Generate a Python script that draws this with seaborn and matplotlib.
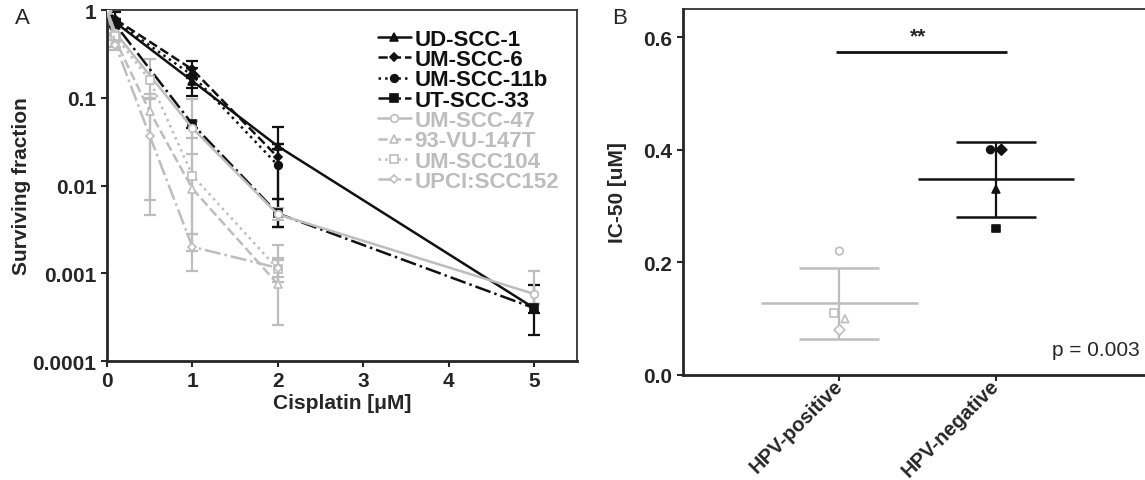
import matplotlib
matplotlib.use("Agg")
import matplotlib.pyplot as plt
import numpy as np
import pandas as pd
import seaborn as sns

BLACK = "#111111"
GRAY = "#bdbdbd"

# ---- panel A: clonogenic survival ----
line_names = [
    "UD-SCC-1", "UM-SCC-6", "UM-SCC-11b", "UT-SCC-33",
    "UM-SCC-47", "93-VU-147T", "UM-SCC104", "UPCI:SCC152",
]
hpv_positive = [False, False, False, False, True, True, True, True]

dose = {
    "UD-SCC-1": [0, 0.1, 1, 2, 5],
    "UM-SCC-6": [0, 0.1, 1, 2],
    "UM-SCC-11b": [0, 0.1, 1, 2],
    "UT-SCC-33": [0, 0.1, 1, 2, 5],
    "UM-SCC-47": [0, 0.1, 1, 2, 5],
    "93-VU-147T": [0, 0.1, 0.5, 1, 2],
    "UM-SCC104": [0, 0.1, 0.5, 1, 2],
    "UPCI:SCC152": [0, 0.1, 0.5, 1, 2],
}
surv = {
    "UD-SCC-1": [1.0, 0.72, 0.155, 0.028, 0.0004],
    "UM-SCC-6": [1.0, 0.78, 0.21, 0.021],
    "UM-SCC-11b": [1.0, 0.74, 0.18, 0.017],
    "UT-SCC-33": [1.0, 0.68, 0.05, 0.0048, 0.0004],
    "UM-SCC-47": [1.0, 0.55, 0.045, 0.0047, 0.00058],
    "93-VU-147T": [1.0, 0.45, 0.07, 0.0092, 0.00075],
    "UM-SCC104": [1.0, 0.5, 0.16, 0.013, 0.00112],
    "UPCI:SCC152": [1.0, 0.4, 0.037, 0.002, 0.00115],
}
surv_lo = {
    "UD-SCC-1": [1.0, 0.65, 0.13, 0.026, 0.00035],
    "UM-SCC-6": [1.0, 0.7, 0.17, 0.0034],
    "UM-SCC-11b": [1.0, 0.68, 0.105, 0.0071],
    "UT-SCC-33": [1.0, 0.62, 0.045, 0.0034, 0.0002],
    "UM-SCC-47": [1.0, 0.5, 0.035, 0.004, 0.00045],
    "93-VU-147T": [1.0, 0.38, 0.0068, 0.0018, 0.00026],
    "UM-SCC104": [1.0, 0.45, 0.1, 0.0028, 0.0008],
    "UPCI:SCC152": [1.0, 0.35, 0.0046, 0.00105, 0.0009],
}
surv_hi = {
    "UD-SCC-1": [1.0, 0.8, 0.18, 0.030, 0.00045],
    "UM-SCC-6": [1.0, 0.95, 0.26, 0.03],
    "UM-SCC-11b": [1.0, 0.8, 0.22, 0.046],
    "UT-SCC-33": [1.0, 0.75, 0.055, 0.0071, 0.00073],
    "UM-SCC-47": [1.0, 0.6, 0.055, 0.0055, 0.00105],
    "93-VU-147T": [1.0, 0.52, 0.097, 0.023, 0.0021],
    "UM-SCC104": [1.0, 0.55, 0.28, 0.097, 0.0015],
    "UPCI:SCC152": [1.0, 0.45, 0.11, 0.0028, 0.0014],
}

# ---- panel B: IC-50 per group ----
groups = ["HPV-positive", "HPV-negative"]
ic50_lines = {
    "HPV-positive": ["UM-SCC-47", "UM-SCC104", "93-VU-147T", "UPCI:SCC152"],
    "HPV-negative": ["UM-SCC-11b", "UM-SCC-6", "UD-SCC-1", "UT-SCC-33"],
}
ic50_values = {
    "HPV-positive": [0.22, 0.11, 0.10, 0.08],
    "HPV-negative": [0.40, 0.40, 0.33, 0.26],
}
p_text = "p = 0.003"
sig_text = "**"

styles = {
    "UD-SCC-1": ("-", "^"),
    "UM-SCC-6": ("--", "D"),
    "UM-SCC-11b": (":", "o"),
    "UT-SCC-33": ("-.", "s"),
    "UM-SCC-47": ("-", "o"),
    "93-VU-147T": ("--", "^"),
    "UM-SCC104": (":", "s"),
    "UPCI:SCC152": ("-.", "D"),
}


def dodge(values, tol=0.015, step=0.035):
    """Spread near-equal points sideways so they do not overlap."""
    vals = np.asarray(values)
    offsets = np.zeros(len(vals))
    used = np.zeros(len(vals), dtype=bool)
    for i in range(len(vals)):
        if used[i]:
            continue
        cluster = [j for j in range(len(vals)) if not used[j] and abs(vals[j] - vals[i]) <= tol]
        n = len(cluster)
        for k, j in enumerate(cluster):
            offsets[j] = (k - (n - 1) / 2) * step * 2 / max(n - 1, 1) if n > 1 else 0.0
            used[j] = True
    return offsets


sns.set_style("ticks")
plt.rcParams["font.family"] = ["Liberation Sans", "DejaVu Sans"]
plt.rcParams["axes.linewidth"] = 1.0

fig = plt.figure(figsize=(11.45, 4.81), dpi=100)
ax_a = fig.add_axes([0.0934, 0.2474, 0.4105, 0.7297])
ax_b = fig.add_axes([0.5965, 0.2183, 0.4045, 0.761])

# ---------- panel A ----------
for name, pos in zip(line_names, hpv_positive):
    color = GRAY if pos else BLACK
    ls, mk = styles[name]
    x = np.array(dose[name])
    y = np.array(surv[name])
    ax_a.errorbar(
        x, y,
        yerr=[y - np.array(surv_lo[name]), np.array(surv_hi[name]) - y],
        fmt="none", ecolor=color, elinewidth=1.6, capsize=4, capthick=1.6, zorder=2,
    )
    sns.lineplot(
        x=x, y=y, ax=ax_a, color=color, linestyle=ls, linewidth=1.8,
        marker=mk, markersize=5.5 if mk != "D" else 4.2,
        markerfacecolor="white" if pos else color,
        markeredgecolor=color, markeredgewidth=1.2,
        label=name, errorbar=None, sort=False, zorder=3,
    )

ax_a.set_yscale("log")
ax_a.set_ylim(1e-4, 1.0)
ax_a.set_xlim(0, 5.5)
ax_a.set_yticks([1e-4, 1e-3, 1e-2, 1e-1, 1])
ax_a.set_yticklabels(["0.0001", "0.001", "0.01", "0.1", "1"])
ax_a.yaxis.set_minor_locator(matplotlib.ticker.NullLocator())
ax_a.set_xticks([0, 1, 2, 3, 4, 5])
ax_a.tick_params(axis="both", labelsize=15, width=1.5, length=4, direction="out")
for lbl in ax_a.get_xticklabels() + ax_a.get_yticklabels():
    lbl.set_fontweight("bold")
ax_a.set_xlabel("Cisplatin [\u03bcM]", fontsize=15, fontweight="bold", labelpad=2)
ax_a.set_ylabel("Surviving fraction", fontsize=15, fontweight="bold", labelpad=1)
for side in ["left", "bottom"]:
    ax_a.spines[side].set_linewidth(2.0)
for side in ["top", "right"]:
    ax_a.spines[side].set_linewidth(1.3)
    ax_a.spines[side].set_color("#333333")

leg = ax_a.legend(
    loc="upper right", bbox_to_anchor=(0.99, 0.985), frameon=False,
    fontsize=16, handlelength=1.5, handletextpad=0.15, labelspacing=-0.03,
    borderaxespad=0.2,
)
for txt, pos in zip(leg.get_texts(), hpv_positive):
    txt.set_fontweight("bold")
    txt.set_color(GRAY if pos else BLACK)

# ---------- panel B ----------
rows = []
for gi, g in enumerate(groups):
    offs = dodge(ic50_values[g])
    for name, v, o in zip(ic50_lines[g], ic50_values[g], offs):
        rows.append({"group": g, "line": name, "ic50": v, "xpos": gi + o})
df_b = pd.DataFrame(rows)

marker_map = {n: styles[n][1] for n in line_names}
for gi, g in enumerate(groups):
    sub = df_b[df_b["group"] == g]
    is_pos = g == "HPV-positive"
    color = GRAY if is_pos else BLACK
    vals = np.array(ic50_values[g])
    mean = vals.mean()
    sd = vals.std(ddof=1)
    ax_b.hlines(mean, gi - 0.5, gi + 0.5, color=color, linewidth=1.8, zorder=1)
    ax_b.errorbar(
        [gi], [mean], yerr=[[sd], [sd]], fmt="none", ecolor=color,
        elinewidth=1.6, capsize=28.5, capthick=1.8, zorder=1,
    )
    sns.scatterplot(
        data=sub, x="xpos", y="ic50", style="line",
        markers={n: marker_map[n] for n in sub["line"]},
        s=30,
        color=color,
        facecolor="white" if is_pos else color,
        edgecolor=color, linewidth=1.2,
        legend=False, ax=ax_b, zorder=3,
    )

ax_b.set_xlim(-1.0, 1.96)
ax_b.set_ylim(0, 0.65)
ax_b.set_xticks(range(len(groups)))
ax_b.set_xticklabels(groups, rotation=45, ha="right", va="center", rotation_mode="anchor")
ax_b.set_yticks([0.0, 0.2, 0.4, 0.6])
ax_b.set_yticklabels(["0.0", "0.2", "0.4", "0.6"])
ax_b.tick_params(axis="both", labelsize=15, width=1.5, length=4, direction="out")
ax_b.tick_params(axis="x", pad=1, labelsize=14.5)
for lbl in ax_b.get_xticklabels() + ax_b.get_yticklabels():
    lbl.set_fontweight("bold")
ax_b.set_xlabel("")
ax_b.set_ylabel("IC-50 [uM]", fontsize=15, fontweight="bold", labelpad=12)
for side in ["left", "bottom"]:
    ax_b.spines[side].set_linewidth(2.0)
ax_b.spines["top"].set_linewidth(1.3)
ax_b.spines["top"].set_color("#333333")
ax_b.spines["right"].set_visible(False)

ax_b.hlines(0.573, -0.02, 1.07, color=BLACK, linewidth=2.0)
ax_b.text(0.5, 0.585, sig_text, ha="center", va="bottom", fontsize=15, fontweight="bold")
ax_b.text(1.92, 0.045, p_text, ha="right", va="center", fontsize=15)

fig.text(0.013, 0.962, "A", fontsize=16, va="center")
fig.text(0.535, 0.962, "B", fontsize=16, va="center")

fig.savefig("out.png", dpi=100)
